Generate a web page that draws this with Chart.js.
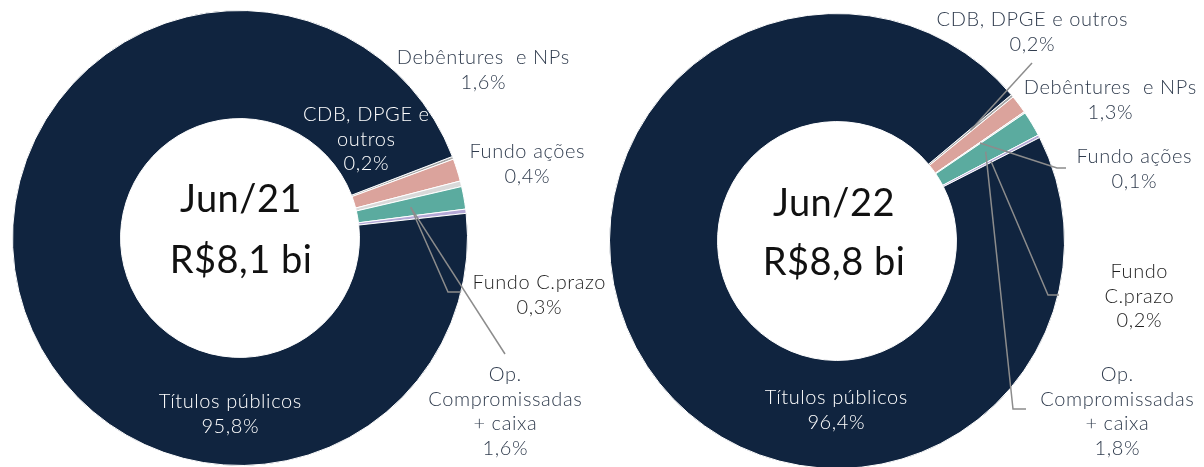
<!DOCTYPE html>
<html>
<head>
<meta charset="utf-8">
<script src="https://cdn.jsdelivr.net/npm/chart.js@4"></script>
<style>
  html, body { margin: 0; padding: 0; background: #fff; }
  body { width: 1204px; height: 467px; overflow: hidden; position: relative; }
  .panel { position: absolute; top: 0; height: 480px; }
</style>
</head>
<body>
<div class="panel" style="left:0;width:640px"><canvas id="c21"></canvas></div>
<div class="panel" style="left:602px;width:602px"><canvas id="c22"></canvas></div>
<script>
// Portfolio composition (% of total), slices listed clockwise from the start angle
const categories = ['CDB, DPGE e outros', 'Debêntures  e NPs', 'Fundo ações', 'Op. Compromissadas + caixa', 'Fundo C.prazo', 'Títulos públicos'];
const valuesJun21 = [0.2, 1.6, 0.4, 1.6, 0.3, 95.8];
const valuesJun22 = [0.2, 1.3, 0.1, 1.8, 0.2, 96.4];
const periods = ['Jun/21', 'Jun/22'];
const totals = ['R$8,1 bi', 'R$8,8 bi'];

const sliceColors = ['#a6a6a6', '#dba39c', '#d9d9d9', '#5bab9f', '#b4a8d6', '#10243f'];
const FONT = 'Lato, "Open Sans", sans-serif';
const SLATE = '#303c4e';

const fmt = v => v.toFixed(1).replace('.', ',') + '%';

// Label layout per chart, page coordinates; value line comes from the data
const layouts = [
  {
    left: 0, rotation: 69, padding: { left: 12, top: 10, right: 172, bottom: 14 },
    center: { x: 241, y1: 200, y2: 261 },
    labels: [
      { i: 1, x: 483, y: 58, lines: ['Debêntures  e NPs'], color: SLATE },
      { i: 0, x: 366, y: 115, lines: ['CDB, DPGE e', 'outros'], color: '#ffffff' },
      { i: 2, x: 527, y: 152, lines: ['Fundo ações'], color: SLATE },
      { i: 4, x: 539, y: 283, lines: ['Fundo C.prazo'], color: '#1e1e1e',
        leader: { anchor: 3, pts: [[461, 292], [448, 292]] } },
      { i: 3, x: 505, y: 375, lines: ['Op.', 'Compromissadas', '+ caixa'], color: SLATE,
        leader: { anchor: 3, pts: [[505, 354]] } },
      { i: 5, x: 230, y: 402, lines: ['Títulos públicos'], color: '#ffffff' }
    ]
  },
  {
    left: 602, rotation: 50, padding: { left: 7, top: 13, right: 139, bottom: 11 },
    center: { x: 834, y1: 204, y2: 263 },
    labels: [
      { i: 0, x: 1032, y: 20, lines: ['CDB, DPGE e outros'], color: SLATE,
        leader: { anchor: 0, pts: [[1032, 63]] } },
      { i: 1, x: 1110, y: 88, lines: ['Debêntures  e NPs'], color: SLATE },
      { i: 2, x: 1134, y: 157, lines: ['Fundo ações'], color: SLATE,
        leader: { anchor: 2, pts: [[1066, 168], [1057, 168]] } },
      { i: 4, x: 1139, y: 272, lines: ['Fundo', 'C.prazo'], color: '#1e1e1e',
        leader: { anchor: 4, pts: [[1059, 295], [1048, 295]] } },
      { i: 3, x: 1117, y: 375, lines: ['Op.', 'Compromissadas', '+ caixa'], color: SLATE,
        leader: { anchor: 3, pts: [[1026, 409], [1013, 409]] } },
      { i: 5, x: 836, y: 398, lines: ['Títulos públicos'], color: '#ffffff' }
    ]
  }
];

const labelPlugin = {
  id: 'sliceLabels',
  afterDatasetsDraw(chart, args, opts) {
    const { ctx } = chart;
    const lay = opts.layout;
    const values = chart.data.datasets[0].data;
    const meta = chart.getDatasetMeta(0);
    const ox = lay.left;
    ctx.save();
    // leader lines
    ctx.strokeStyle = '#8c8c8c';
    ctx.lineWidth = 1.5;
    lay.labels.forEach(l => {
      if (!l.leader) return;
      const p = meta.data[l.leader.anchor].tooltipPosition();
      ctx.beginPath();
      ctx.moveTo(l.leader.pts[0][0] - ox, l.leader.pts[0][1]);
      l.leader.pts.slice(1).forEach(q => ctx.lineTo(q[0] - ox, q[1]));
      ctx.lineTo(p.x, p.y);
      ctx.stroke();
    });
    // slice labels
    ctx.font = '300 20px ' + FONT;
    ctx.textAlign = 'center';
    ctx.textBaseline = 'middle';
    const sp = 0.6;
    if ('letterSpacing' in ctx) ctx.letterSpacing = sp + 'px';
    const lh = 24.5;
    lay.labels.forEach(l => {
      ctx.fillStyle = l.color;
      const lines = l.lines.concat([fmt(values[l.i])]);
      lines.forEach((t, k) => ctx.fillText(t, l.x - ox + sp / 2, l.y + k * lh));
    });
    // centre text
    if ('letterSpacing' in ctx) ctx.letterSpacing = '0.5px';
    ctx.fillStyle = '#111111';
    ctx.font = '38px ' + FONT;
    ctx.fillText(opts.period, lay.center.x - ox, lay.center.y1);
    ctx.fillText(opts.total, lay.center.x - ox, lay.center.y2);
    ctx.restore();
  }
};

function makeChart(id, values, k) {
  const lay = layouts[k];
  return new Chart(document.getElementById(id), {
    type: 'doughnut',
    data: {
      labels: categories,
      datasets: [{
        data: values,
        backgroundColor: sliceColors,
        borderColor: '#ffffff',
        borderWidth: 1
      }]
    },
    options: {
      responsive: true,
      maintainAspectRatio: false,
      animation: false,
      cutout: '52.5%',
      rotation: lay.rotation,
      layout: { padding: lay.padding },
      events: [],
      plugins: {
        legend: { display: false },
        tooltip: { enabled: false },
        sliceLabels: { layout: lay, period: periods[k], total: totals[k] }
      }
    },
    plugins: [labelPlugin]
  });
}

makeChart('c21', valuesJun21, 0);
makeChart('c22', valuesJun22, 1);
</script>
</body>
</html>
